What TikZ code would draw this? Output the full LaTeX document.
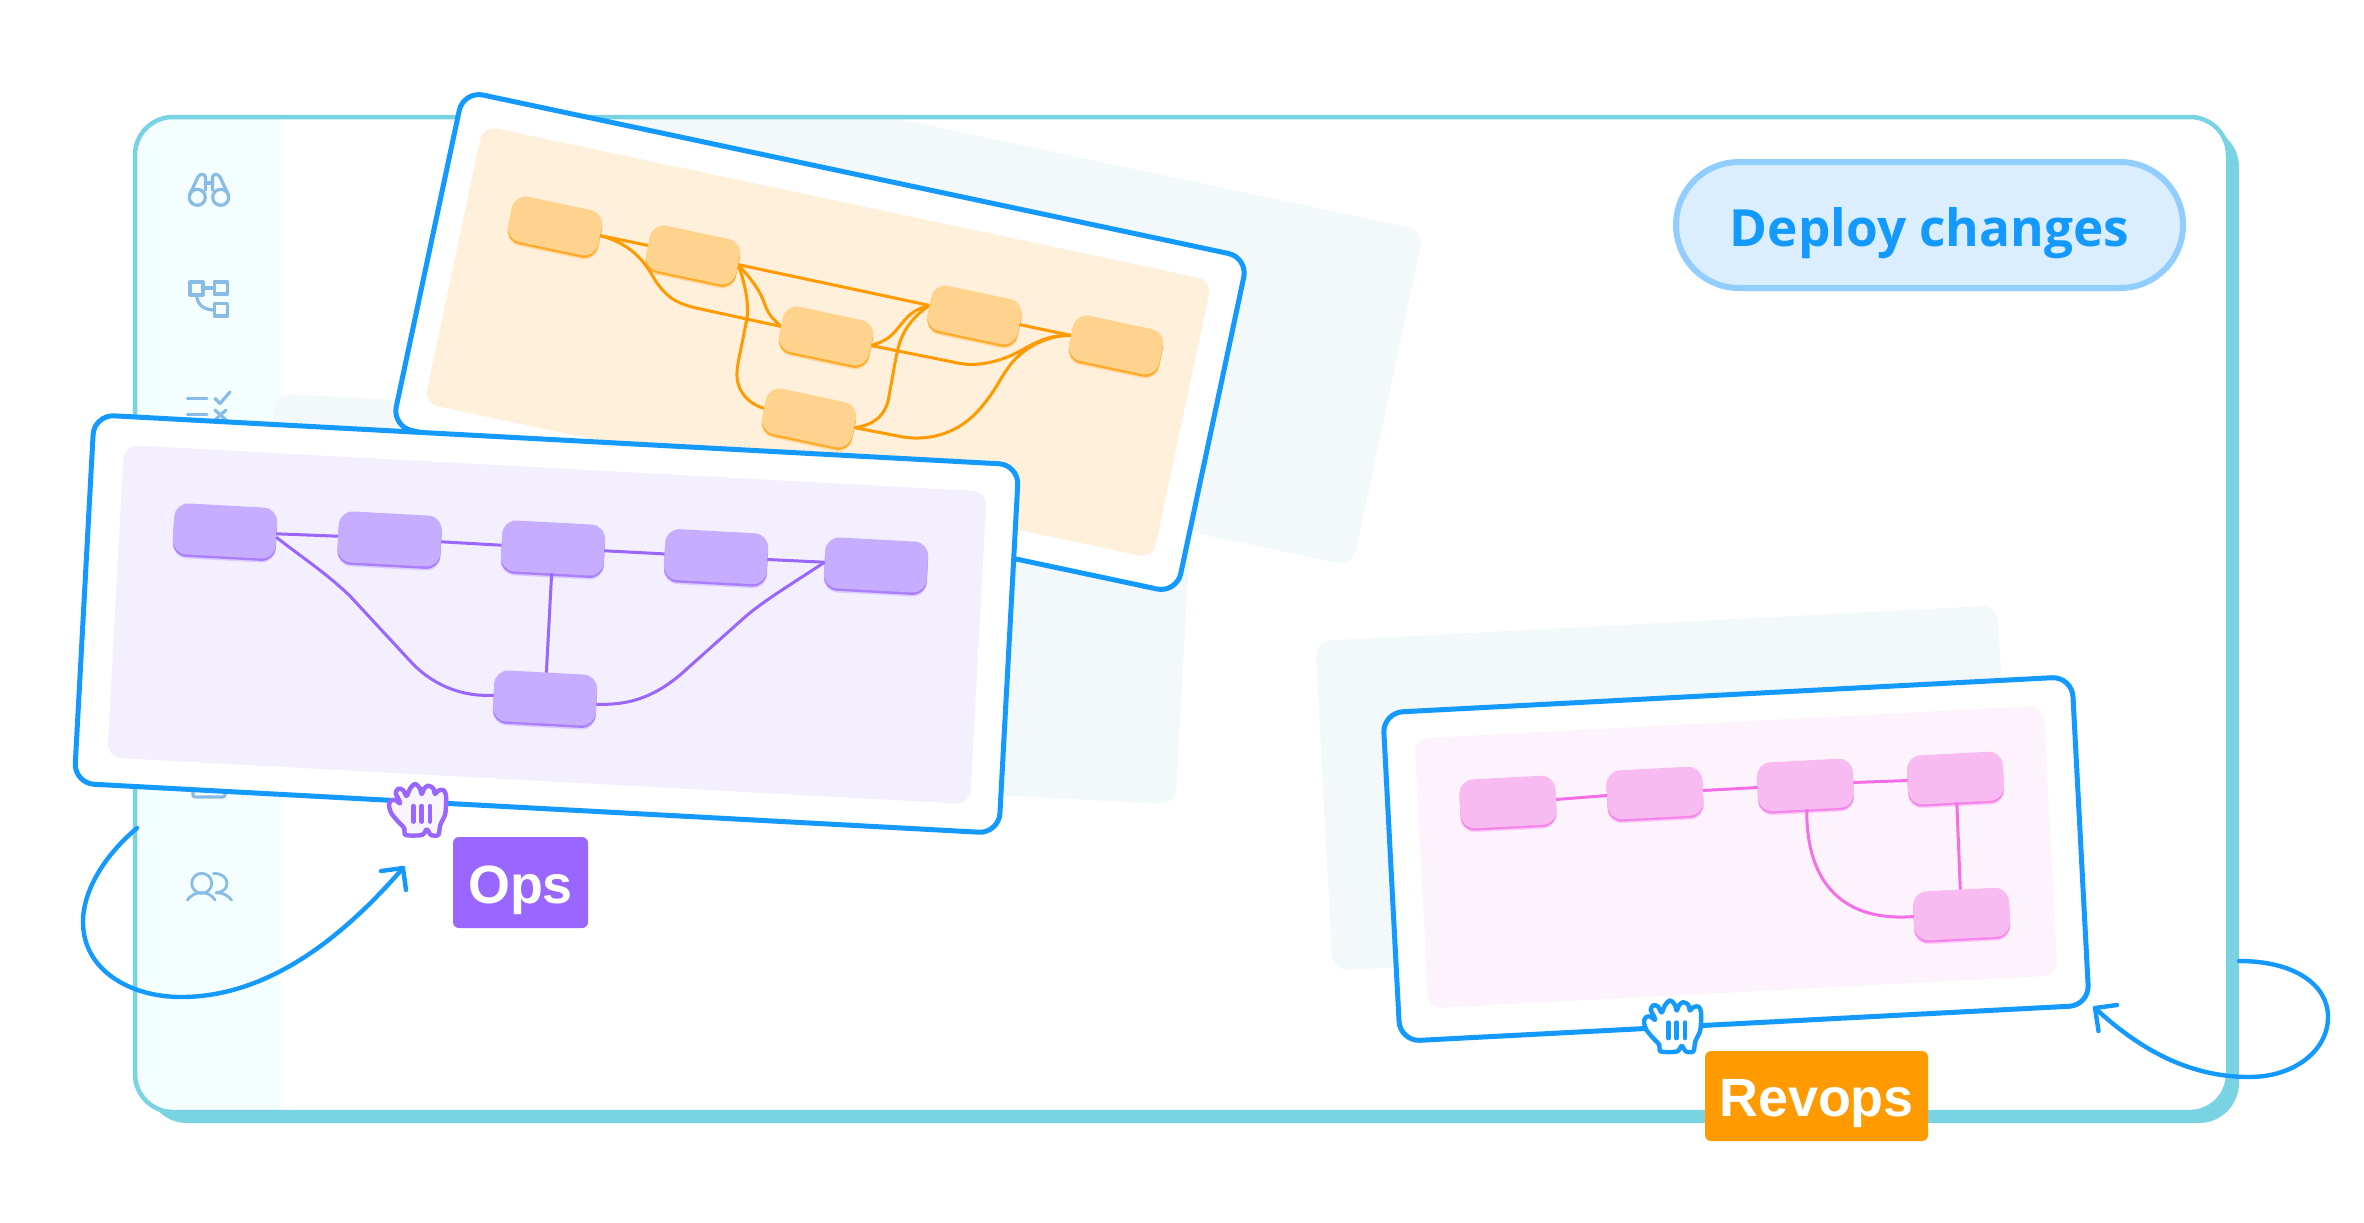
\documentclass[tikz,border=0pt]{standalone}
\usepackage{fontspec}
\usetikzlibrary{shadows,calc}
\pgfdeclarelayer{oe}\pgfdeclarelayer{on}\pgfdeclarelayer{rest}
\pgfsetlayers{main,oe,on,rest}
\newfontfamily\deployfont{Open Sans}
\newfontfamily\tagfont{Liberation Sans}
\newcommand{\pxu}{0.03cm}
\definecolor{cblue}{HTML}{1499FF}
\definecolor{cteal}{HTML}{7AD3E2}
\definecolor{cside}{HTML}{F4FEFF}
\definecolor{cghost}{HTML}{F3F8FA}
\definecolor{cicon}{HTML}{88BCE5}
\definecolor{orangeL}{HTML}{FF9A00}
\definecolor{orangeP}{HTML}{FFF0DB}
\definecolor{orangeN}{HTML}{FFD28E}
\definecolor{purpleL}{HTML}{9966FF}
\definecolor{purpleP}{HTML}{F3EFFE}
\definecolor{purpleN}{HTML}{C6ADFF}
\definecolor{pinkL}{HTML}{F56EE6}
\definecolor{pinkP}{HTML}{FDF3FD}
\definecolor{pinkN}{HTML}{F8BBF1}
\definecolor{deployF}{HTML}{DBEEFF}
\definecolor{deployB}{HTML}{91CEFF}
\tikzset{
  flat/.style={draw=none,rectangle,inner sep=0,outer sep=0},
  card/.style={flat,draw=cblue,fill=white,line width=5*\pxu,rounded corners=20*\pxu},
  panel/.style={flat,rounded corners=14*\pxu},
  ghost/.style={flat,fill=cghost,rounded corners=16*\pxu},
  nodebase/.style={flat,rounded corners=14*\pxu},
  onode/.style={nodebase,fill=orangeN,rotate=-12,minimum width=92*\pxu,minimum height=46*\pxu,
    general shadow={fill=orangeL,opacity=.25,shadow yshift=-4*\pxu},
    general shadow={fill=orangeL,opacity=.75,shadow yshift=-2.4*\pxu}},
  pnode/.style={nodebase,fill=purpleN,rotate=-3.1,minimum width=103*\pxu,minimum height=51*\pxu,
    general shadow={fill=purpleL,opacity=.25,shadow yshift=-4*\pxu},
    general shadow={fill=purpleL,opacity=.75,shadow yshift=-2.4*\pxu}},
  knode/.style={nodebase,fill=pinkN,rotate=3,minimum width=96*\pxu,minimum height=49*\pxu,
    general shadow={fill=pinkL,opacity=.25,shadow yshift=-4*\pxu},
    general shadow={fill=pinkL,opacity=.75,shadow yshift=-2.4*\pxu}},
  oline/.style={draw=orangeL,line width=3*\pxu,line join=round},
  pline/.style={draw=purpleL,line width=3*\pxu,line join=round},
  kline/.style={draw=pinkL,line width=3*\pxu,line join=round},
  icon/.style={draw=cicon,line width=3.2*\pxu,line cap=round,line join=round},
  arrowline/.style={draw=cblue,line width=4.4*\pxu,line cap=round,line join=round},
  tagbox/.style={flat,text=white,rounded corners=6*\pxu,text height=40pt,text depth=4.5pt,
    font=\tagfont\bfseries\fontsize{46}{46}\selectfont},
}
\newcommand{\handicon}[4]{%
  \begin{scope}[shift={(#1,#2)},x=0.01cm,y=-0.01cm]
    \draw[draw=#3,fill=#4,line width=4.4*\pxu,line join=round]
      plot[smooth cycle,tension=0.5] coordinates {
      (42,105) (48,92) (60,90) (75,100) (70,85) (62,70) (70,56) (84,60) (95,78)
      (105,56) (120,42) (135,55) (140,72) (148,55) (160,47) (175,55) (180,72) (190,62) (205,60) (213,75)
      (213,110) (210,135) (196,165) (190,195) (168,195) (155,178) (141,195) (92,195) (88,175) (65,150) (48,128)};
    \draw[draw=#3,line width=4.4*\pxu,line cap=round] (115,108)--(115,155) (140,108)--(140,155) (165,108)--(165,155);
  \end{scope}}
\begin{document}
\begin{tikzpicture}[x=\pxu,y=-\pxu]
\useasboundingbox (0,0) rectangle (2364,1222);
% window
\fill[cteal,rounded corners=40*\pxu] (147,127) rectangle (2239,1123);
\begin{scope}
  \path[clip,rounded corners=38*\pxu] (135,117) rectangle (2228,1112);
  \fill[white] (135,117) rectangle (2228,1112);
  \fill[cside] (135,117) rectangle (281,1112);
  \node[ghost,rotate=-12,minimum width=802*\pxu,minimum height=343*\pxu] (ghostA) at (996,315) {};
\end{scope}
\draw[cteal,line width=4.5*\pxu,rounded corners=38*\pxu] (135,117) rectangle (2228,1112);
\node[ghost,rotate=-3.1,minimum width=922*\pxu,minimum height=362*\pxu] (ghostB) at (725,599) {};
\node[ghost,rotate=3,minimum width=683*\pxu,minimum height=330*\pxu] (ghostC) at (1665,788) {};
% sidebar icons
\draw[icon] (197.3,197.3) circle[radius=8];
\draw[icon] (220.7,197.3) circle[radius=8];
\draw[icon] (189.5,195) -- (198,177) .. controls (199.5,173.5) and (205,173.5) .. (205.5,177) -- (205.5,190);
\draw[icon] (228.5,195) -- (220,177) .. controls (218.5,173.5) and (213,173.5) .. (212.5,177) -- (212.5,190);
\draw[icon] (205.5,183) -- (212.5,183);
\draw[icon] (190,282) rectangle (203,295);
\draw[icon] (214.5,282) rectangle (227.5,294);
\draw[icon] (214.5,303.5) rectangle (227.5,316);
\draw[icon] (203,288) -- (214.5,288);
\draw[icon] (196.7,295) .. controls (197,304) and (203,310) .. (214.5,310);
\draw[icon] (187.5,398.3) -- (207,398.3);
\draw[icon] (215,398.5) -- (220,403.5) -- (230,392);
\draw[icon] (187.5,414.3) -- (207,414.3);
\draw[icon] (215,410) -- (226,420) (226,410) -- (215,420);
\draw[icon,rounded corners=2*\pxu] (193,770) rectangle (225,797);
\draw[icon,line width=2.8*\pxu] (201.7,883.3) circle[radius=10];
\draw[icon,line width=2.8*\pxu] (187.3,900) .. controls (191,895) and (196,892.7) .. (201.7,892.7) .. controls (207,892.7) and (212,895) .. (215,900);
\draw[icon,line width=2.8*\pxu] (213.5,873.5) .. controls (221,873) and (227,877) .. (227,883.5) .. controls (227,888) and (224,892) .. (216,892.7) .. controls (222,892.7) and (228,895) .. (231.7,900);
% orange card
\node[card,rotate=-12,minimum width=802*\pxu,minimum height=343*\pxu] (cardO) at (820,342) {};
\node[panel,fill=orangeP,rotate=-12,minimum width=745*\pxu,minimum height=284*\pxu] (panelO) at (818,342) {};
\begin{pgfonlayer}{on}
\node[onode] (o1) at (555,226) {};
\node[onode] (o2) at (693,255) {};
\node[onode] (o3) at (826,336) {};
\node[onode] (o4) at (974.5,315) {};
\node[onode] (o5) at (1116,345) {};
\node[onode] (o6) at (809,418) {};
\end{pgfonlayer}
\begin{pgfonlayer}{oe}
\draw[oline] (o1.east) -- (o2.west);
\draw[oline] (o2.east) -- (o4.west);
\draw[oline] (o4.east) -- (o5.west);
\draw[oline] (o2.east) .. controls (752,280) and (760,290) .. (765,305) .. controls (770,318) and (775,320) .. (o3.west);
\draw[oline] (o2.east) .. controls (746,285) and (750,310) .. (746,323) .. controls (742,345) and (737,365) .. (737,372) .. controls (736,390) and (747,403) .. (o6.west);
\draw[oline] (o3.east) .. controls (885,341) and (890,338) .. (898,328) .. controls (908,316) and (912,310) .. (o4.west);
\draw[oline] (o3.east) -- (953,362) .. controls (975,368) and (1000,362) .. (1020,351) .. controls (1040,340) and (1050,335) .. (o5.west);
\draw[oline] (o6.east) .. controls (870,426) and (886,418) .. (889,396) .. controls (892,380) and (896,355) .. (899,345) .. controls (904,328) and (915,315) .. (o4.west);
\draw[oline] (o6.east) -- (898,436) .. controls (925,442) and (955,435) .. (976,413) .. controls (995,393) and (1000,378) .. (1008,368) .. controls (1020,350) and (1045,335) .. (o5.west);
\draw[oline] (o1.east) .. controls (632,244) and (645,262) .. (655,280) .. controls (668,300) and (680,304) .. (696,308) -- (o3.west);
\end{pgfonlayer}
\begin{pgfonlayer}{rest}
% purple card
\node[card,rotate=-3.1,minimum width=926*\pxu,minimum height=369*\pxu] (cardP) at (546.5,624) {};
\node[panel,fill=purpleP,rotate=-3.1,minimum width=864*\pxu,minimum height=313*\pxu] (panelP) at (547,624.5) {};
\node[pnode] (p1) at (225,531) {};
\node[pnode] (p2) at (389.6,539) {};
\node[pnode] (p3) at (553,548) {};
\node[pnode] (p4) at (716,556.7) {};
\node[pnode] (p5) at (876,565) {};
\node[pnode] (p6) at (545,698) {};
\draw[pline] (p1.east) -- (p2.west);
\draw[pline] (p2.east) -- (p3.west);
\draw[pline] (p3.east) -- (p4.west);
\draw[pline] (p4.east) -- (p5.west);
\draw[pline] (p3.south) -- (p6.north);
\draw[pline] ([yshift=-3pt]p1.east) .. controls (300,556) and (325,572) .. (350,596) -- (412,663) .. controls (435,687) and (465,697) .. (p6.west);
\draw[pline] ([yshift=-3pt]p6.east) .. controls (625,705) and (650,700) .. (680,675) -- (745,617) .. controls (762,602) and (790,585) .. (p5.west);
% pink card
\node[card,rotate=3,minimum width=690*\pxu,minimum height=329*\pxu] (cardK) at (1736,859) {};
\node[panel,fill=pinkP,rotate=3,minimum width=630*\pxu,minimum height=270*\pxu] (panelK) at (1736,857) {};
\node[knode] (k1) at (1508,802) {};
\node[knode] (k2) at (1655,793) {};
\node[knode] (k3) at (1805.5,785) {};
\node[knode] (k4) at (1955.5,778) {};
\node[knode] (k5) at (1961.6,914) {};
\draw[kline] (k1.east) -- (k2.west);
\draw[kline] (k2.east) -- (k3.west);
\draw[kline] (k3.east) -- (k4.west);
\draw[kline] (k4.south) -- (k5.north);
\draw[kline] (k3.south) .. controls (1806,885) and (1845,922) .. (k5.west);
% deploy button
\node[flat,draw=deployB,fill=deployF,line width=6*\pxu,rounded corners=62.9*\pxu,minimum width=507*\pxu,minimum height=126*\pxu,
  text=cblue,text height=38pt,text depth=2pt,font=\deployfont\bfseries\fontsize{43.8}{44}\selectfont] (deploy) at (1929.5,225) {Deploy changes};
% tags
\node[tagbox,fill=purpleL,minimum width=135*\pxu,minimum height=91*\pxu] (ops) at (520.5,882.5) {Ops};
\node[tagbox,fill=orangeL,minimum width=223*\pxu,minimum height=90*\pxu] (revops) at (1816.5,1096) {Revops};
% hands
\handicon{375}{770}{purpleL}{purpleP!60!white}
\handicon{1630}{986.5}{cblue}{white}
% arrows
\coordinate (arrowAstart) at (137,828);
\coordinate (arrowAtip) at (403,868);
\coordinate (arrowBstart) at (2239,961);
\coordinate (arrowBtip) at (2095,1008);
\draw[arrowline] (arrowAstart) .. controls (105,855) and (83,890) .. (83,922) .. controls (83,970) and (130,997) .. (181,997) .. controls (270,997) and (345,935) .. (arrowAtip);
\draw[arrowline] (381,871) -- (arrowAtip) -- (406,890);
\draw[arrowline] (arrowBstart) .. controls (2295,961) and (2328,985) .. (2328,1017) .. controls (2328,1050) and (2295,1077) .. (2249,1077) .. controls (2190,1077) and (2140,1050) .. (arrowBtip);
\draw[arrowline] (2117,1005) -- (arrowBtip) -- (2098.5,1031);
\end{pgfonlayer}
\end{tikzpicture}
\end{document}
